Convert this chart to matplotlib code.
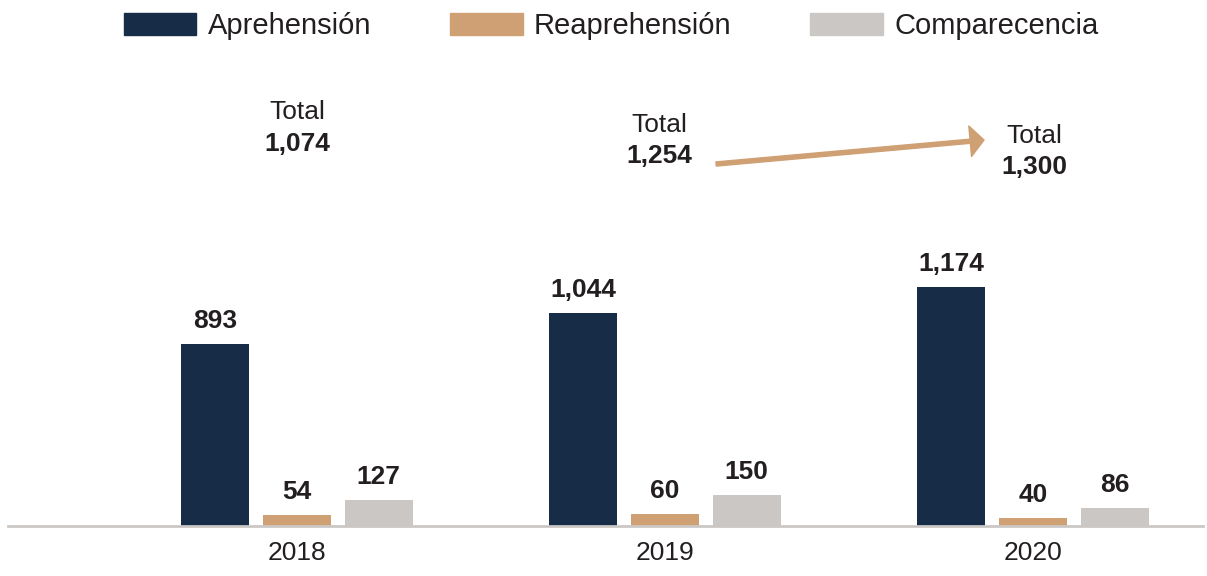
import numpy as np
import matplotlib.pyplot as plt
from matplotlib.patches import Patch

years = ['2018', '2019', '2020']
aprehension = [893, 1044, 1174]
reaprehension = [54, 60, 40]
comparecencia = [127, 150, 86]
totals = ['1,074', '1,254', '1,300']

c_navy = '#172c47'
c_tan = '#cfa073'
c_grey = '#cbc7c4'
c_text = '#231f20'

plt.rcParams['font.family'] = ['Liberation Sans', 'DejaVu Sans']

fig = plt.figure(figsize=(12.07, 5.76), dpi=100)
ax = fig.add_axes([8 / 1207, 50 / 576, 1195 / 1207, 526 / 576])

x = np.arange(len(years))
off = 0.222
w = 0.185
series = [(aprehension, c_navy, 'Aprehensión', -off),
          (reaprehension, c_tan, 'Reaprehensión', 0),
          (comparecencia, c_grey, 'Comparecencia', off)]
for vals, col, lab, dx in series:
    bars = ax.bar(x + dx, vals, width=w, color=col, label=lab, zorder=2)
    ax.bar_label(bars, labels=[f'{v:,}' for v in vals], padding=8,
                 fontsize=19, fontweight='bold', color=c_text)

ax.set_xlim(-0.785, 2.462)
ax.set_ylim(0, 2581)
ax.set_yticks([])
ax.set_xticks(x)
ax.set_xticklabels(years, fontsize=19, color=c_text)
ax.tick_params(axis='x', length=0, pad=11)
for s in ['top', 'right', 'left']:
    ax.spines[s].set_visible(False)
ax.spines['bottom'].set_color(c_grey)
ax.spines['bottom'].set_linewidth(2)

# totales sobre cada grupo
px = 0.2038
tot_x = [0, 0.986, 2.003]
tot_lbl_y = [119, 132, 143]
tot_num_y = [151, 163, 174]
for i in range(3):
    ax.text(tot_x[i], (526 - tot_lbl_y[i]) / px, 'Total', ha='center', va='baseline',
            fontsize=19, color=c_text)
    ax.text(tot_x[i], (526 - tot_num_y[i]) / px, totals[i], ha='center', va='baseline',
            fontsize=19, fontweight='bold', color=c_text)

ax.annotate('', xy=(1.867, (526 - 140) / px), xytext=(1.139, (526 - 164) / px),
            arrowprops=dict(width=3, headwidth=22, headlength=10,
                            color=c_tan, shrink=0))

handles = [Patch(color=c, label=l) for _, c, l, _ in series]
fig.legend(handles=handles, loc='center', bbox_to_anchor=(611 / 1207, 1 - 26 / 576),
           ncol=3, frameon=False, fontsize=21, handlelength=2.5, handleheight=0.79,
           handletextpad=0.38, columnspacing=2.7, labelcolor=c_text)

fig.savefig('out.png', dpi=100)
